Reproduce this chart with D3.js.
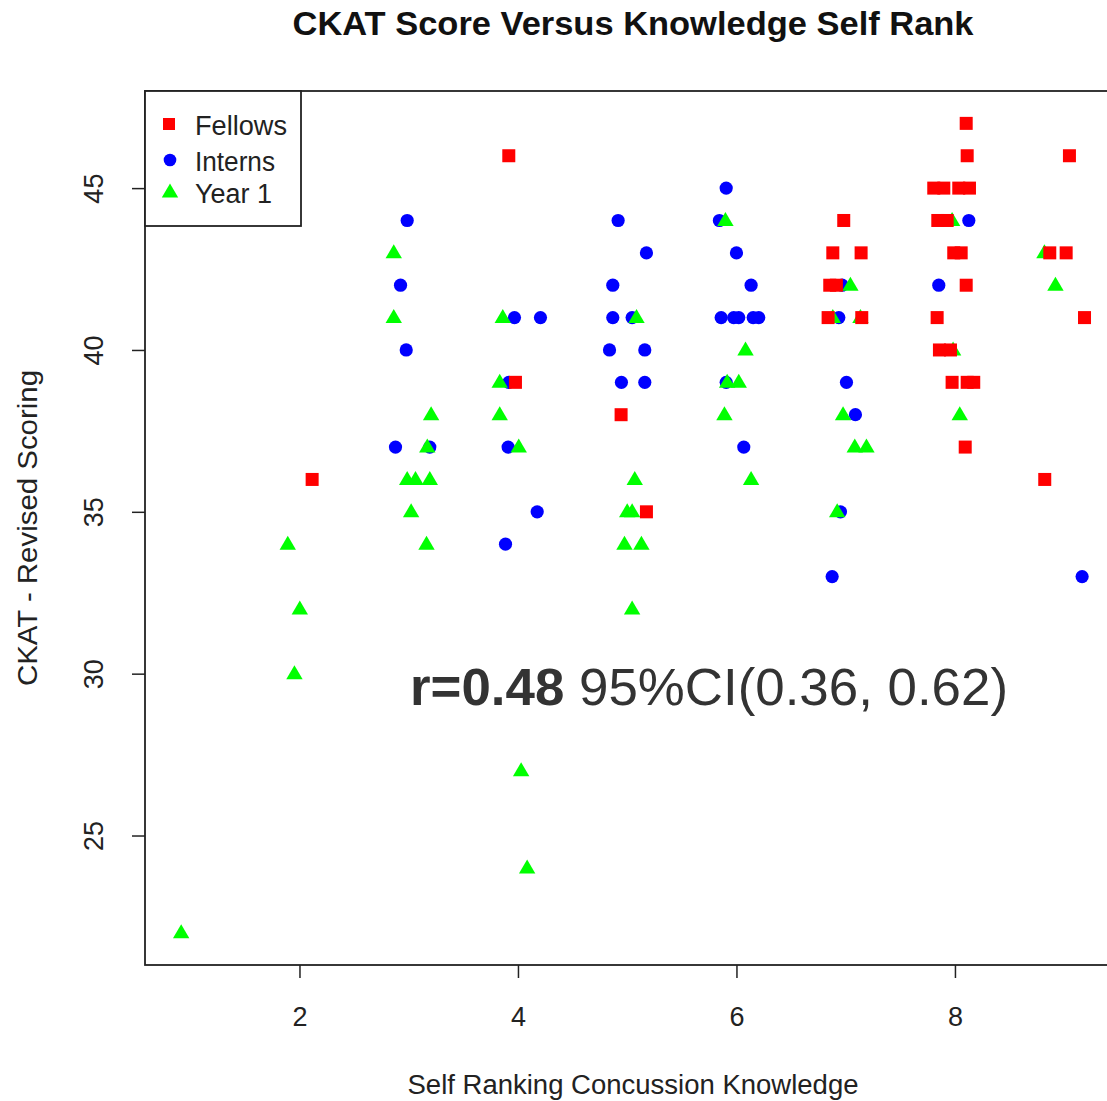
<!DOCTYPE html>
<html>
<head>
<meta charset="utf-8">
<script src="https://cdn.jsdelivr.net/npm/d3@7"></script>
<style>
  body { margin: 0; background: #fff; }
  text { font-family: "Liberation Sans", Arial, sans-serif; }
</style>
</head>
<body>
<div id="chart"></div>
<script>
// self rank (jittered) and CKAT score, per group
var fellowsX = [2.116, 3.916, 3.977, 4.944, 5.176, 6.982, 6.882, 7.141, 6.854, 6.915, 6.839, 7.147,
  8.103, 8.112, 7.806, 7.898, 8.035, 8.133, 7.843, 7.929, 7.989, 8.057, 8.103, 7.837, 7.858, 7.959,
  7.974, 8.112, 8.172, 8.094, 9.048, 8.868, 9.018, 9.186, 8.822];
var fellowsY = [36, 46, 39, 38, 35, 44, 43, 43, 42, 42, 41, 41,
  47, 46, 45, 45, 45, 45, 44, 44, 43, 43, 42, 41, 40, 40,
  39, 39, 39, 37, 46, 43, 43, 41, 36];

var internsX = [2.986, 2.925, 2.977, 2.879, 3.193, 3.968, 4.206, 3.916, 3.91, 4.176, 3.886,
  4.917, 5.176, 4.868, 4.868, 5.045, 4.838, 5.161, 4.947, 5.161,
  5.906, 5.844, 6.0, 6.134, 5.86, 5.975, 6.021, 6.153, 6.204, 5.906, 6.067,
  6.967, 6.937, 7.007, 7.089, 6.952, 6.876, 8.127, 7.852, 9.164];
var internsY = [44, 42, 40, 37, 37, 41, 41, 39, 37, 35, 34,
  44, 43, 42, 41, 41, 40, 40, 39, 39,
  45, 44, 43, 42, 41, 41, 41, 41, 41, 39, 37,
  42, 41, 39, 38, 35, 33, 44, 42, 33];

var year1X = [0.917, 1.893, 2.003, 1.954, 2.863, 2.863, 3.205, 3.17, 2.986, 3.062, 3.193, 3.022, 3.163,
  3.861, 3.833, 3.833, 4.007, 4.029, 4.084,
  5.085, 5.069, 5.0, 5.045, 4.975, 5.13, 5.045,
  5.899, 6.083, 5.915, 6.021, 5.89, 6.134,
  7.043, 6.882, 7.135, 6.976, 7.083, 7.19, 6.922,
  7.974, 7.983, 8.044, 8.819, 8.92];
var year1Y = [22, 34, 32, 30, 43, 41, 38, 37, 36, 36, 36, 35, 34,
  41, 39, 38, 37, 27, 24,
  41, 36, 35, 35, 34, 34, 32,
  44, 40, 39, 39, 38, 36,
  42, 41, 41, 38, 37, 37, 35,
  44, 40, 38, 43, 42];

var xTicks = [2, 4, 6, 8];
var yTicks = [25, 30, 35, 40, 45];
var groups = ["Fellows", "Interns", "Year 1"];

var svgWidth = 1107, svgHeight = 1101;
var margin = {top: 91, right: -14, bottom: 136, left: 145};
var width = svgWidth - margin.left - margin.right;
var height = svgHeight - margin.top - margin.bottom;

var svg = d3.select("#chart").append("svg")
  .attr("width", svgWidth)
  .attr("height", svgHeight);

var chartGroup = svg.append("g")
  .attr("transform", `translate(${margin.left}, ${margin.top})`);

var xScale = d3.scaleLinear().domain([0.586, 9.52]).range([0, width]);
var yScale = d3.scaleLinear().domain([21, 48]).range([height, 0]);

// axes
var bottomAxis = d3.axisBottom(xScale).tickValues(xTicks).tickSize(13).tickPadding(29);
var leftAxis = d3.axisLeft(yScale).tickValues(yTicks).tickSize(13).tickPadding(0);

var xg = chartGroup.append("g")
  .attr("transform", `translate(0, ${height})`)
  .call(bottomAxis);
xg.select(".domain").remove();
xg.selectAll("line").attr("stroke", "#222").attr("stroke-width", 1.5);
xg.selectAll("text").attr("font-size", "27px").attr("fill", "#222")
  .attr("font-family", "Liberation Sans, Arial, sans-serif");

var yg = chartGroup.append("g").call(leftAxis);
yg.select(".domain").remove();
yg.selectAll("line").attr("stroke", "#222").attr("stroke-width", 1.5);
yg.selectAll("text")
  .attr("font-size", "27px").attr("fill", "#222")
  .attr("font-family", "Liberation Sans, Arial, sans-serif")
  .attr("x", null).attr("dy", null)
  .attr("text-anchor", "middle")
  .attr("transform", "translate(-42, 0) rotate(-90)");

// plot box
chartGroup.append("rect")
  .attr("x", 0).attr("y", 0)
  .attr("width", width).attr("height", height)
  .attr("fill", "none")
  .attr("stroke", "#222")
  .attr("stroke-width", 1.8);

// markers
var tri = "M0,-8.5L8.2,5.5L-8.2,5.5Z";

chartGroup.selectAll(".intern")
  .data(d3.range(internsX.length))
  .enter().append("circle")
  .attr("cx", i => xScale(internsX[i]))
  .attr("cy", i => yScale(internsY[i]))
  .attr("r", 6.6)
  .attr("fill", "#0000ff");

chartGroup.selectAll(".year1")
  .data(d3.range(year1X.length))
  .enter().append("path")
  .attr("d", tri)
  .attr("transform", i => `translate(${xScale(year1X[i])}, ${yScale(year1Y[i])})`)
  .attr("fill", "#00ff00");

chartGroup.selectAll(".fellow")
  .data(d3.range(fellowsX.length))
  .enter().append("rect")
  .attr("x", i => xScale(fellowsX[i]) - 6.5)
  .attr("y", i => yScale(fellowsY[i]) - 6.5)
  .attr("width", 13).attr("height", 13)
  .attr("fill", "#ff0000");

// legend
var legend = svg.append("g").attr("transform", "translate(145, 91)");
legend.append("rect")
  .attr("x", 0).attr("y", 0).attr("width", 156).attr("height", 135)
  .attr("fill", "#fff").attr("stroke", "#222").attr("stroke-width", 1.8);
var ly = [33, 69, 101];
legend.append("rect").attr("x", 24 - 6).attr("y", ly[0] - 6).attr("width", 12).attr("height", 12).attr("fill", "#ff0000");
legend.append("circle").attr("cx", 25).attr("cy", ly[1]).attr("r", 6.3).attr("fill", "#0000ff");
legend.append("path").attr("d", tri).attr("transform", `translate(25, ${ly[2]})`).attr("fill", "#00ff00");
legend.selectAll(".lbl")
  .data(groups).enter().append("text")
  .attr("x", 50)
  .attr("y", (d, i) => ly[i] + 11)
  .attr("font-size", "27px")
  .attr("fill", "#222")
  .attr("textLength", (d, i) => [92, 80, 77][i])
  .attr("lengthAdjust", "spacingAndGlyphs")
  .text(d => d);

// title and axis titles
svg.append("text")
  .attr("x", 633).attr("y", 35)
  .attr("text-anchor", "middle")
  .attr("font-size", "33px").attr("font-weight", "bold")
  .attr("fill", "#111")
  .attr("textLength", 681).attr("lengthAdjust", "spacingAndGlyphs")
  .text("CKAT Score Versus Knowledge Self Rank");

svg.append("text")
  .attr("x", 633).attr("y", 1094)
  .attr("text-anchor", "middle")
  .attr("font-size", "27px").attr("fill", "#222")
  .attr("textLength", 451).attr("lengthAdjust", "spacingAndGlyphs")
  .text("Self Ranking Concussion Knowledge");

svg.append("text")
  .attr("transform", "translate(37, 528) rotate(-90)")
  .attr("text-anchor", "middle")
  .attr("font-size", "28px").attr("fill", "#222")
  .attr("textLength", 316).attr("lengthAdjust", "spacingAndGlyphs")
  .text("CKAT - Revised Scoring");

// correlation note
var note = svg.append("text")
  .attr("x", 410).attr("y", 705)
  .attr("font-size", "51px").attr("fill", "#333")
  .attr("textLength", 598).attr("lengthAdjust", "spacingAndGlyphs");
note.append("tspan").attr("font-weight", "bold").text("r=0.48");
note.append("tspan").text(" 95%CI(0.36, 0.62)");
</script>
</body>
</html>
